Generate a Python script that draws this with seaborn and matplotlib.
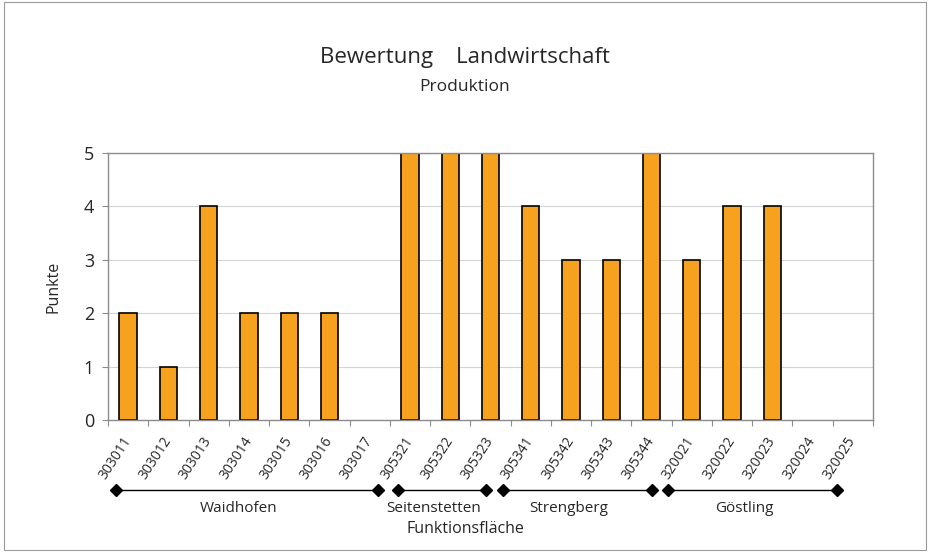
import matplotlib
matplotlib.use("Agg")
import matplotlib.pyplot as plt
from matplotlib.ticker import FixedLocator
import seaborn as sns
import pandas as pd

codes = ["303011", "303012", "303013", "303014", "303015", "303016", "303017",
         "305321", "305322", "305323",
         "305341", "305342", "305343", "305344",
         "320021", "320022", "320023", "320024", "320025"]
punkte = [2, 1, 4, 2, 2, 2, 0,
          5, 5, 5,
          4, 3, 3, 5,
          3, 4, 4, 0, 0]

gruppen = ["Waidhofen", "Seitenstetten", "Strengberg", "Göstling"]
# bracket extent per group, in category units
gruppen_von = [-0.3, 6.7, 9.3, 13.4]
gruppen_bis = [6.2, 8.9, 13.0, 17.6]

df = pd.DataFrame({"Code": codes, "Punkte": punkte})

sns.set_theme(style="white")
plt.rcParams["font.family"] = ["Open Sans", "DejaVu Sans"]

fig = plt.figure(figsize=(9.3, 5.52), dpi=100)
ax = fig.add_axes([0.1161, 0.2391, 0.8226, 0.4837])

sns.barplot(data=df, x="Code", y="Punkte", order=codes, color="#F7A21E",
            saturation=1, width=0.43, edgecolor="black", linewidth=1.2, ax=ax)
# empty bars leave no outline
for p in ax.patches:
    if p.get_height() == 0:
        p.set_visible(False)

ax.set_xlim(-0.5, len(codes) - 0.5)
ax.set_ylim(0, 5)
ax.set_yticks(range(0, 6))
ax.yaxis.grid(True, color="#d4d4d4", linewidth=0.8)
ax.set_axisbelow(True)
for s in ax.spines.values():
    s.set_color("#8c8c8c")
    s.set_linewidth(1.0)

# tick marks between categories, labels at category centres
ax.xaxis.set_minor_locator(FixedLocator([i - 0.5 for i in range(len(codes) + 1)]))
ax.tick_params(axis="x", which="minor", length=4, color="#8c8c8c", width=0.8, bottom=True)
ax.tick_params(axis="x", which="major", length=0, pad=13, labelsize=10)
ax.tick_params(axis="y", length=4, color="#8c8c8c", width=0.8, left=True, labelsize=13, pad=6)
plt.setp(ax.get_xticklabels(), rotation=57, ha="right", va="center", rotation_mode="anchor")

ax.set_xlabel("")
ax.set_ylabel("Punkte", fontsize=11.5, labelpad=16)

fig.text(0.5, 1 - 58 / 552, "Bewertung    Landwirtschaft", ha="center", va="center", fontsize=16)
fig.text(0.5, 1 - 87 / 552, "Produktion", ha="center", va="center", fontsize=12.5)

for name, a, b in zip(gruppen, gruppen_von, gruppen_bis):
    ax.plot([a, b], [-0.262, -0.262], transform=ax.get_xaxis_transform(), color="black",
            linewidth=1.0, marker="D", markersize=6, clip_on=False)
    ax.text((a + b) / 2 - 0.2, -0.33, name, transform=ax.get_xaxis_transform(),
            ha="center", va="center", fontsize=11)

fig.text(0.5, 1 - 529 / 552, "Funktionsfläche", ha="center", va="center", fontsize=11.5)

fig.patches.append(plt.Rectangle((0.004, 0.004), 0.992, 0.992, transform=fig.transFigure,
                                 fill=False, edgecolor="#9a9a9a", linewidth=0.8))

fig.savefig("out.png", dpi=100)
